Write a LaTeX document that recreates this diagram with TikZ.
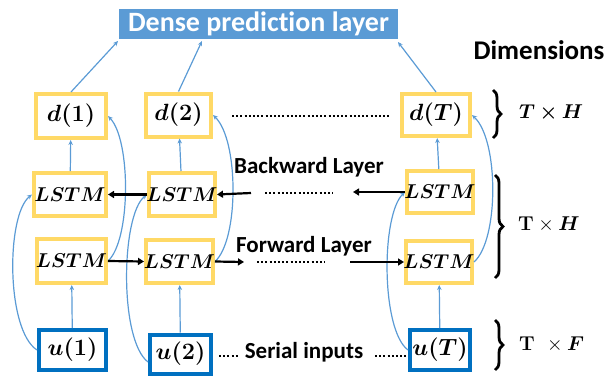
\RequirePackage{fix-cm}
\documentclass[tikz,border=0pt]{standalone}
\usepackage{amsmath,bm}
\usepackage[no-math]{fontspec}
\setmainfont{Carlito}[Ligatures=NoCommon]
\usetikzlibrary{arrows.meta,decorations.pathreplacing}
\definecolor{ylw}{HTML}{FFD966}
\definecolor{ubl}{HTML}{0070C0}
\definecolor{lbl}{HTML}{5B9BD5}
\newcommand{\fitin}[1]{\makebox[0pt]{$#1$}}
\tikzset{
  ybox/.style={draw=ylw, line width=4pt, inner sep=0pt, outer sep=2pt, fill=white, font=\fontsize{23.5}{26}\selectfont},
  lbox/.style={ybox, font=\fontsize{20}{22}\selectfont},
  ubox/.style={draw=ubl, line width=4pt, inner sep=0pt, outer sep=2pt, fill=white, font=\fontsize{23.5}{26}\selectfont},
  barrow/.style={draw=lbl, line width=1.2pt, -{Stealth[length=5pt,width=4.5pt]}},
  karrow/.style={draw=black, line width=2.2pt, -{Triangle[length=6pt,width=7pt]}},
  dots/.style={draw=black, line width=2pt, dash pattern=on 2pt off 2.2pt},
  lbltext/.style={font=\bfseries\fontsize{23}{25}\selectfont, inner sep=0pt},
  bracesty/.style={draw=black, line width=2.8pt, decorate, decoration={brace, amplitude=8pt}},
  dimtext/.style={font=\fontsize{20}{22}\selectfont, inner sep=0pt, anchor=west}
}
\begin{document}
\begin{tikzpicture}[x=1pt,y=-1pt]
\useasboundingbox (0,0) rectangle (608,375);
% dense layer
\node[fill=lbl, minimum width=279pt, minimum height=30pt, inner sep=0pt, text=white, font=\bfseries\fontsize{28}{30}\selectfont] (dense) at (258.5,24) {Dense prediction layer};
\node[lbltext, font=\bfseries\fontsize{27}{29}\selectfont] (dim) at (539,50) {Dimensions};
% output row
\node[ybox, minimum width=70pt, minimum height=44pt] (d1) at (71,116) {\fitin{\bm{d(1)}}};
\node[ybox, minimum width=65pt, minimum height=43pt] (d2) at (178.5,115) {\fitin{\bm{d(2)}}};
\node[ybox, minimum width=68pt, minimum height=42pt] (dT) at (436,115) {\fitin{\bm{d(T)}}};
% backward row
\node[lbox, minimum width=72pt, minimum height=43pt] (b1) at (70,194.5) {\fitin{\bm{LSTM}}};
\node[lbox, minimum width=66pt, minimum height=43pt] (b2) at (182,194.5) {\fitin{\bm{LSTM}}};
\node[lbox, minimum width=66pt, minimum height=42pt] (bT) at (440,192) {\fitin{\bm{LSTM}}};
% forward row
\node[lbox, minimum width=69pt, minimum height=44pt] (f1) at (71.5,261) {\fitin{\bm{LSTM}}};
\node[lbox, minimum width=67pt, minimum height=43pt] (f2) at (179.5,261.5) {\fitin{\bm{LSTM}}};
\node[lbox, minimum width=66pt, minimum height=42pt] (fT) at (439,262) {\fitin{\bm{LSTM}}};
% inputs
\node[ubox, minimum width=67pt, minimum height=40pt] (u1) at (72.5,350) {\fitin{\bm{u(1)}}};
\node[ubox, minimum width=61pt, minimum height=39pt] (u2) at (180.5,354) {\fitin{\bm{u(2)}}};
\node[ubox, minimum width=60pt, minimum height=40pt] (uT) at (440,350) {\fitin{\bm{u(T)}}};
% texts
\node[lbltext] (bwl) at (309,167) {Backward Layer};
\node[lbltext] (fwl) at (304,246) {Forward Layer};
\node[lbltext] (ser) at (304,352) {Serial inputs};
% to dense
\coordinate (dn1) at (118,41);
\coordinate (dn2) at (202,41);
\coordinate (dnT) at (398,42);
\draw[barrow] (d1.north) -- (dn1);
\draw[barrow] (d2.north) -- (dn2);
\draw[barrow] (dT.north) -- (dnT);
% vertical arrows
\draw[barrow] (b1) -- (d1);
\draw[barrow] (b2) -- (d2);
\draw[barrow] (bT) -- (dT);
\draw[barrow] (u1) -- (f1);
\draw[barrow] (u2) -- (f2);
\draw[barrow] (uT) -- (fT);
% curves
\draw[barrow] (u1.west) .. controls (6,330) and (6,215) .. (b1.west);
\draw[barrow] (f1.east) .. controls (131,240) and (131,140) .. (d1.east);
\draw[barrow] ([yshift=-8pt]u2.west) .. controls (119,340) and (121,215) .. (b2.west);
\draw[barrow] (f2.east) .. controls (239,240) and (239,140) .. (d2.east);
\draw[barrow] (uT.west) .. controls (381,330) and (381,215) .. (bT.west);
\draw[barrow] (fT.east) .. controls (499,240) and (499,140) .. (dT.east);
% black arrows backward
\coordinate (bs2) at (251,193);
\coordinate (beT) at (353,192);
\draw[karrow] (b2.west) -- (b1.east);
\draw[karrow] (bs2) -- (b2.east);
\draw[karrow] (bT.west) -- (beT);
\draw[dots] (265,193) -- (333,193);
% black arrows forward
\coordinate (fe2) at (244,262);
\coordinate (fsT) at (350,262);
\draw[karrow] (f1.east) -- (f2.west);
\draw[karrow] (f2.east) -- (fe2);
\draw[karrow] (fsT) -- (fT.west);
\draw[dots] (257,262) -- (325,262);
% other dotted lines
\draw[dots] (232,116) -- (390,116);
\draw[dots] (219,356) -- (238,356);
\draw[dots] (375,356) -- (406,356);
% braces
\draw[bracesty] (493,90) -- (493,138);
\draw[bracesty] (495,175) -- (495,278);
\draw[bracesty] (495,320) -- (495,370);
\node[dimtext] (dim1) at (519,113) {$\bm{T\times H}$};
\node[dimtext] (dim2) at (518,224) {$\mathbf{T}\times\bm{H}$};
\node[dimtext] (dim3) at (519,344) {$\mathbf{T}\ \,\times\bm{F}$};
\end{tikzpicture}
\end{document}
